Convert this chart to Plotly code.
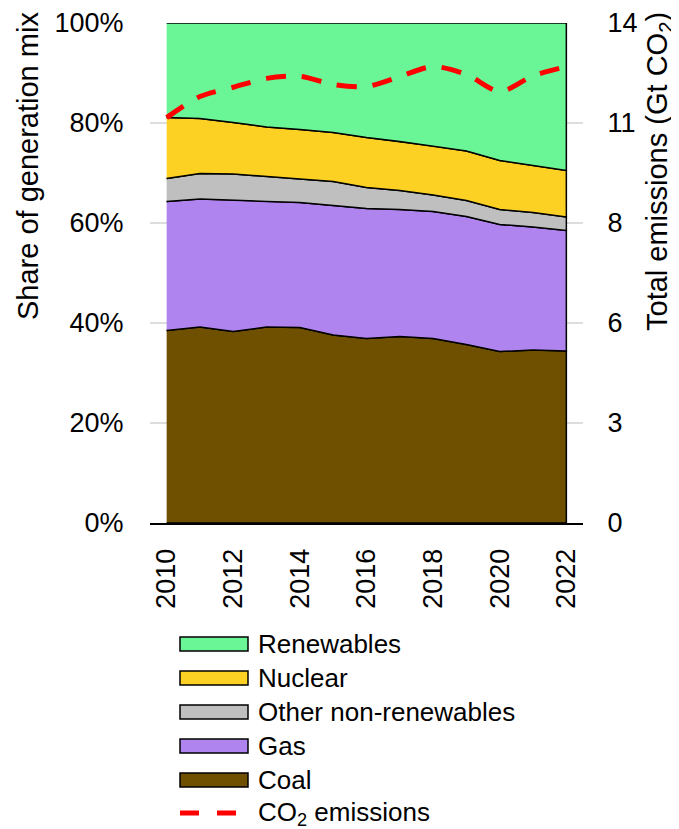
import numpy as np
import plotly.graph_objects as go

years = list(range(2010, 2023))
coal = [38.5, 39.2, 38.3, 39.2, 39.1, 37.6, 36.9, 37.3, 36.9, 35.7, 34.3, 34.6, 34.4]
gas = [25.8, 25.6, 26.3, 25.1, 25.0, 25.9, 26.0, 25.4, 25.4, 25.6, 25.4, 24.6, 24.1]
other = [4.6, 5.1, 5.2, 5.0, 4.7, 4.8, 4.2, 3.8, 3.3, 3.2, 3.0, 2.9, 2.7]
nuclear = [12.2, 11.0, 10.3, 9.9, 9.9, 9.8, 10.0, 9.8, 9.8, 9.9, 9.8, 9.4, 9.3]
renewables = [18.9, 19.1, 19.9, 20.8, 21.3, 21.9, 22.9, 23.7, 24.6, 25.6, 27.5, 28.5, 29.5]
co2 = [11.35, 11.94, 12.20, 12.45, 12.51, 12.28, 12.22, 12.50, 12.78, 12.56, 12.08, 12.52, 12.78]

left_tickvals = [0, 20, 40, 60, 80, 100]
left_ticktext = ["0%", "20%", "40%", "60%", "80%", "100%"]
right_tickvals = [0, 2.8, 5.6, 8.4, 11.2, 14]
right_ticktext = ["0", "3", "6", "8", "11", "14"]
x_tickvals = [2010, 2012, 2014, 2016, 2018, 2020, 2022]

series_names = ["Coal", "Gas", "Other non-renewables", "Nuclear", "Renewables"]
series_values = [coal, gas, other, nuclear, renewables]
series_colors = ["#6F4F00", "#B084EE", "#BFBFBF", "#FDD124", "#6AF596"]
co2_name = "CO<sub>2</sub> emissions"
co2_color = "#FF0000"

FONT = "Arial, Liberation Sans, sans-serif"

# page is 679x829; the html body has an 8px margin
OFF = 8
PAGE_W, PAGE_H = 679, 829
W, H = PAGE_W - OFF, PAGE_H - OFF
# plot area in page pixels
P_LEFT, P_RIGHT, P_TOP, P_BOTTOM = 150, 583, 23, 523
ML = P_LEFT - OFF
MR = W - (P_RIGHT - OFF)
MT = P_TOP - OFF
MB = H - (P_BOTTOM - OFF)
PW, PH = P_RIGHT - P_LEFT, P_BOTTOM - P_TOP


def px_x(px):
    return (px - P_LEFT) / PW


def px_y(py):
    return (P_BOTTOM - py) / PH


fig = go.Figure()

base = np.zeros(len(years))
for name, vals, color in zip(series_names, series_values, series_colors):
    top = base + np.array(vals)
    xs = years + years[::-1]
    ys = list(top) + list(base[::-1])
    fig.add_trace(go.Scatter(
        x=xs, y=ys, name=name, mode="lines", fill="toself",
        fillcolor=color, line=dict(color="black", width=1.5),
        hoverinfo="skip", showlegend=False,
    ))
    base = top

fig.add_trace(go.Scatter(
    x=years, y=co2, name=co2_name, mode="lines", yaxis="y2",
    line=dict(color=co2_color, width=5, dash="20px,16px", shape="spline", smoothing=0.8),
    showlegend=False,
))

# custom legend (top to bottom: Renewables ... Coal, then CO2)
shapes = []
annotations = []
legend_rows_y = [644, 678, 712, 746, 780]
for i, (name, color) in enumerate(zip(series_names[::-1], series_colors[::-1])):
    cy = legend_rows_y[i]
    shapes.append(dict(
        type="rect", xref="paper", yref="paper",
        x0=px_x(180), x1=px_x(248), y0=px_y(cy + 7), y1=px_y(cy - 7),
        fillcolor=color, line=dict(color="black", width=1.5), layer="above",
    ))
    annotations.append(dict(
        text=name, xref="paper", yref="paper", x=px_x(256), y=px_y(cy),
        xanchor="left", yanchor="middle", showarrow=False,
        font=dict(size=26, family=FONT),
    ))
cy = 813
shapes.append(dict(
    type="line", xref="paper", yref="paper",
    x0=px_x(180), x1=px_x(238), y0=px_y(cy), y1=px_y(cy),
    line=dict(color=co2_color, width=5, dash="19px,18px"), layer="above",
))
annotations.append(dict(
    text=co2_name, xref="paper", yref="paper", x=px_x(256), y=px_y(cy),
    xanchor="left", yanchor="middle", showarrow=False,
    font=dict(size=26, family=FONT),
))

annotations += [
    dict(text="Share of generation mix", xref="paper", yref="paper",
         x=px_x(28), y=px_y(166), xanchor="center", yanchor="middle",
         textangle=-90, showarrow=False, font=dict(size=29, family=FONT)),
    dict(text="Total emissions (Gt CO<sub>2</sub>)", xref="paper", yref="paper",
         x=px_x(659), y=px_y(172), xanchor="center", yanchor="middle",
         textangle=-90, showarrow=False, font=dict(size=29, family=FONT)),
]

fig.update_layout(
    width=W, height=H,
    margin=dict(l=ML, r=MR, t=MT, b=MB, autoexpand=False),
    paper_bgcolor="white", plot_bgcolor="white",
    font=dict(family=FONT, size=27, color="black"),
    showlegend=False,
    xaxis=dict(
        range=[2009.5, 2022.5], tickvals=x_tickvals, tickangle=-90,
        ticks="outside", ticklen=13, tickcolor="rgba(0,0,0,0)",
        showgrid=False, zeroline=False, automargin=False,
        showline=True, linecolor="black", linewidth=2,
        tickfont=dict(size=27),
    ),
    yaxis=dict(
        range=[0, 100], tickvals=left_tickvals, ticktext=left_ticktext,
        ticks="outside", ticklen=20, tickcolor="rgba(0,0,0,0)",
        showgrid=True, gridcolor="#DDDDDD", gridwidth=2, automargin=False,
        zeroline=False, showline=False, tickfont=dict(size=27),
    ),
    yaxis2=dict(
        range=[0, 14], tickvals=right_tickvals, ticktext=right_ticktext,
        overlaying="y", side="right", automargin=False,
        ticks="outside", ticklen=18, tickcolor="rgba(0,0,0,0)",
        showgrid=False, zeroline=False, showline=False, tickfont=dict(size=27),
    ),
    shapes=shapes,
    annotations=annotations,
)

fig.write_html("out.html")
